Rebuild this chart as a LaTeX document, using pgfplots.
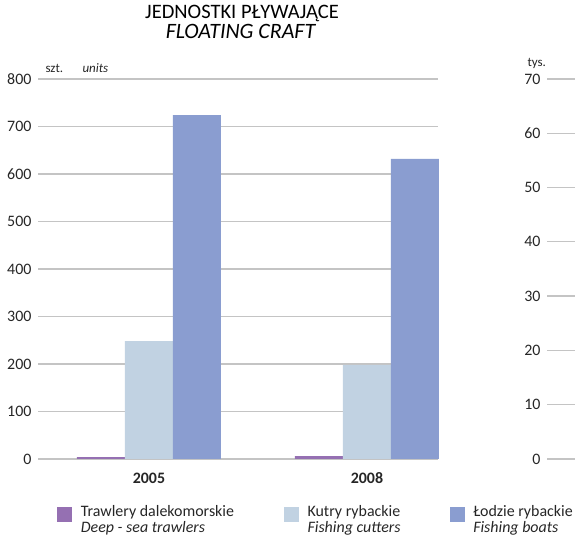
\documentclass[border=0pt]{standalone}
\usepackage{pgfplots}
\pgfplotsset{compat=1.18}
\usepackage{fontspec}
\setmainfont{Carlito}
\definecolor{cPurple}{HTML}{9570B2}
\definecolor{cLight}{HTML}{C1D2E2}
\definecolor{cBlue}{HTML}{8A9DD0}
\definecolor{cGrid}{HTML}{C4C4C4}
\definecolor{cText}{HTML}{262626}
\begin{document}
\begin{tikzpicture}[x=1bp,y=1bp]
\useasboundingbox (0,0) rectangle (575,540);
\begin{axis}[
  at={(38bp,81bp)}, anchor=south west,
  scale only axis, width=400bp, height=380bp,
  ymin=0, ymax=800, ytick={0,100,...,800},
  xmin=-0.509, xmax=1.326, xtick={0,1},
  xticklabels={\textbf{2005},\textbf{2008}},
  ybar=0pt, bar width=48bp,
  axis line style={draw=none}, major tick style={draw=none},
  ymajorgrids, grid style={cGrid, line width=1.3bp},
  /pgf/number format/assume math mode=true,
  yticklabel style={font=\fontsize{16}{16}\selectfont, text=cText, xshift=-3bp},
  xticklabel style={font=\fontsize{16}{16}\selectfont, text=cText, yshift=-6bp},
  clip=false,
  legend columns=3,
  legend image code/.code={\fill[#1] (0bp,-5bp) rectangle (15bp,10bp);},
  legend style={at={(axis description cs:0.04,-0.112)}, anchor=north west, draw=none,
    font=\fontsize{16}{14.5}\selectfont, text=cText,
    cells={anchor=base west},
    /tikz/every odd column/.append style={column sep=6.7bp},
    /tikz/every even column/.append style={column sep=0bp}},
]
\addplot[fill=cPurple, draw=none] coordinates {(0,4) (1,6)};
\addplot[fill=cLight, draw=none] coordinates {(0,248) (1,198)};
\addplot[fill=cBlue, draw=none] coordinates {(0,724) (1,632)};
\addlegendentry{\makebox[201bp][l]{\begin{tabular}[t]{@{}l@{}}Trawlery dalekomorskie\\\textit{Deep - sea trawlers}\end{tabular}}}
\addlegendentry{\makebox[140bp][l]{\begin{tabular}[t]{@{}l@{}}Kutry rybackie\\\textit{Fishing cutters}\end{tabular}}}
\addlegendentry{\begin{tabular}[t]{@{}l@{}}Łodzie rybackie\\\textit{Fishing boats}\end{tabular}}
\end{axis}
\begin{axis}[
  at={(547bp,81bp)}, anchor=south west,
  scale only axis, width=28bp, height=380bp,
  ymin=0, ymax=70, ytick={0,10,...,70},
  xmin=0, xmax=1, xtick=\empty,
  axis line style={draw=none}, major tick style={draw=none},
  ymajorgrids, grid style={cGrid, line width=1.3bp},
  /pgf/number format/assume math mode=true,
  yticklabel style={font=\fontsize{16}{16}\selectfont, text=cText, xshift=-3bp},
]
\addplot[draw=none] coordinates {(0,0)};
\end{axis}
\node[anchor=base, font=\fontsize{20.6}{20.6}\selectfont, text=black] at (242,521) {JEDNOSTKI PŁYWAJĄCE};
\node[anchor=base, font=\fontsize{22}{22}\selectfont\itshape, text=black] at (240.5,501) {FLOATING CRAFT};
\node[anchor=west, font=\fontsize{13}{13}\selectfont, text=cText] at (42,472) {szt.};
\node[anchor=west, font=\fontsize{13}{13}\selectfont\itshape, text=cText] at (79,472) {units};
\node[anchor=west, font=\fontsize{13}{13}\selectfont, text=cText] at (524,477) {tys.};
\end{tikzpicture}
\end{document}
